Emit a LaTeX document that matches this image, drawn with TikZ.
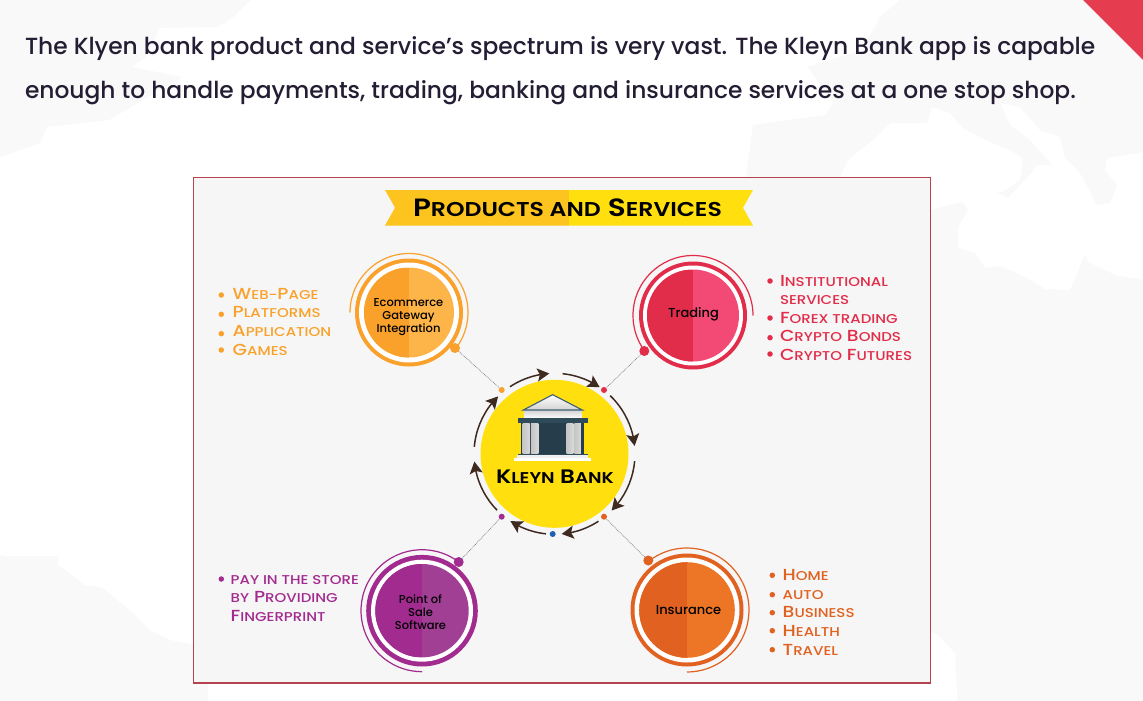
\documentclass[tikz,border=0pt]{standalone}
\usepackage{fontspec}
\setmainfont{Poppins}[BoldFont={Poppins SemiBold}]
\newfontfamily\pmed{Poppins Medium}
\newfontfamily\pwide{Poppins SemiBold}[FakeStretch=1.18]
\newfontfamily\plist{Poppins Medium}[FakeStretch=1.17]
\usetikzlibrary{arrows.meta,bending}
\definecolor{bgmap}{HTML}{F9F9F9}
\definecolor{panel}{HTML}{F6F6F6}
\definecolor{inkc}{HTML}{241D33}
\definecolor{brownc}{HTML}{3F2A20}
\definecolor{framec}{HTML}{B5424F}
\definecolor{cornerc}{HTML}{E63C50}
\definecolor{banA}{HTML}{FDC31E}
\definecolor{banB}{HTML}{FFDF0E}
\definecolor{blued}{HTML}{1F62B5}
\definecolor{ecoA}{HTML}{F9A12B}\definecolor{ecoB}{HTML}{FDB54A}
\definecolor{traA}{HTML}{E22D4A}\definecolor{traB}{HTML}{F34A75}
\definecolor{posA}{HTML}{A22B8F}\definecolor{posB}{HTML}{A13F95}
\definecolor{insA}{HTML}{E06120}\definecolor{insB}{HTML}{EC7526}
\definecolor{bankd}{HTML}{2F4A58}
\definecolor{bankk}{HTML}{263E4B}
\definecolor{bankr}{HTML}{3F5F73}
\makeatletter
\newcommand\sm[1]{{\fontsize{\the\dimexpr.8\dimexpr\f@size pt\relax\relax}{12pt}\selectfont #1}}
\makeatother
\tikzset{
 x=1pt,y=-1pt,
 txt/.style={inner sep=0pt,outer sep=0pt,anchor=base west},
 disc/.style n args={3}{circle,inner sep=0pt,minimum size=#1*2pt,fill=#3,
   path picture={\fill[#2] (path picture bounding box.south west) rectangle (path picture bounding box.north);}},
 cap/.style={inner sep=0pt,align=center,text=black,font=\pmed\fontsize{#1}{13.2pt}\selectfont},
 tiny/.style={circle,inner sep=0pt,minimum size=6pt,fill=#1},
 knob/.style={circle,inner sep=0pt,minimum size=10pt,fill=#1},
 bul/.style={circle,inner sep=0pt,minimum size=5.5pt,fill=#1},
 link/.style={gray,dash pattern=on .8pt off .9pt,line width=.7pt},
 cyc/.style={brownc,line width=1.5pt,-{Stealth[length=12pt,width=13pt,inset=2.5pt,flex]}},
 item/.style={txt,text=#1,font=\plist\fontsize{16pt}{18pt}\selectfont},
 colm/.style={left color=gray!45,middle color=white,right color=gray!30},
}
\begin{document}
\begin{tikzpicture}
\useasboundingbox (0,0) rectangle (1143,701);
\fill[white] (0,0) rectangle (1143,701);
% faint world map
\fill[bgmap] (0,0) -- (251,0) -- (233,17) -- (218,27) -- (160,28) -- (146,57) -- (131,67) -- (182,77) -- (109,120) -- (47,127) -- (40,143) -- (0,157) -- cycle;
\fill[bgmap] (900,0) -- (880,17) -- (862,50) -- (808,67) -- (833,103) -- (826,115) -- (753,125) -- (746,177) -- (840,177) -- (848,160) -- (860,150) -- (873,140) -- (890,123) -- (927,123) -- (932,107) -- (950,113) -- (963,128) -- (990,142) -- (1010,150) -- (1033,165) -- (1052,165) -- (1030,140) -- (1010,125) -- (1000,103) -- (1020,107) -- (1040,130) -- (1060,137) -- (1065,157) -- (1080,173) -- (1097,205) -- (1110,203) -- (1117,185) -- (1105,170) -- (1107,158) -- (1143,152) -- (1143,60) -- (1083,0) -- cycle;
\fill[bgmap] (1023,160) -- (1020,180) -- (1003,192) -- (997,192) -- (1008,198) -- (1032,172) -- (1036,165) -- cycle;
\fill[bgmap] (930,210) -- (963,202) -- (968,210) -- (958,227) -- (958,248) -- (975,253) -- (985,268) -- (1000,266) -- (1025,277) -- (1045,289) -- (1070,290) -- (1085,255) -- (1088,262) -- (1115,275) -- (1143,280) -- (1143,701) -- (957,701) -- (957,690) -- (955,653) -- (938,635) -- (930,632) -- cycle;
\fill[bgmap] (0,555) -- (5,556) -- (58,556) -- (58,565) -- (85,585) -- (103,588) -- (135,615) -- (150,630) -- (170,640) -- (195,645) -- (195,683) -- (208,683) -- (208,701) -- (0,701) -- cycle;
% corner
\fill[cornerc] (1083,0) -- (1143,0) -- (1143,60) -- cycle;
% intro text
\node[txt,text=inkc,font=\pmed\fontsize{23.35pt}{28pt}\selectfont] (l1) at (25,55) {The Klyen bank product and service’s spectrum is very vast. The Kleyn Bank app is capable};
\node[txt,text=inkc,font=\pmed\fontsize{23.35pt}{28pt}\selectfont] (l2) at (25,99) {enough to handle payments, trading, banking and insurance services at a one stop shop.};
% panel
\draw[draw=framec,fill=panel,line width=1.2pt] (193.5,177.5) rectangle (930.5,683);
% banner
\fill[banA] (385,190) -- (569,190) -- (569,225.5) -- (385,225.5) -- (395,207.7) -- cycle;
\fill[banB] (569,190) -- (753,190) -- (743,207.7) -- (753,225.5) -- (569,225.5) -- cycle;
\node[txt,font=\pwide\fontsize{25pt}{28pt}\selectfont,text=black] (title) at (413,216) {P\sm{RODUCTS AND} S\sm{ERVICES}};
% service circles
\fill[ecoA] (409,312.5) circle[radius=54];
\fill[white] (409,312.5) circle[radius=50];
\draw[ecoA,line width=1.2pt] (409,312.5) ++(180:59pt) arc[start angle=180,end angle=-37,radius=59pt];
\node[disc={45}{ecoA}{ecoB}] (eco) at (409,312.5) {};
\node[cap=11.5pt] (ecoT) at (408.5,317) {Ecommerce\\Gateway\\Integration};
\node[knob=ecoA] (ecoK) at (455,348) {};
\fill[traA] (693,315.5) circle[radius=54];
\fill[white] (693,315.5) circle[radius=50];
\draw[traA,line width=1.2pt] (693,315.5) ++(0:60pt) arc[start angle=0,end angle=216,radius=60pt];
\node[disc={46}{traA}{traB}] (tra) at (693,315.5) {};
\node[cap=13pt] (traT) at (693.5,314.5) {Trading};
\node[knob=traA] (traK) at (644.3,351) {};
\fill[posA] (422,610.7) circle[radius=55.8];
\fill[white] (422,610.7) circle[radius=51];
\draw[posA,line width=1.2pt] (422,610.7) ++(53:61pt) arc[start angle=53,end angle=270,radius=61pt];
\node[disc={46.7}{posA}{posB}] (pos) at (422,610.7) {};
\node[cap=11.5pt] (posT) at (420.5,612) {Point of\\Sale\\Software};
\node[knob=posA] (posK) at (458.7,562) {};
\fill[insA] (687,610) circle[radius=56.5];
\fill[white] (687,610) circle[radius=52.5];
\draw[insA,line width=1.2pt] (687,610) ++(128:62pt) arc[start angle=128,end angle=-90,radius=62pt];
\node[disc={47.8}{insA}{insB}] (ins) at (687,610) {};
\node[cap=13pt] (insT) at (688.5,610) {Insurance};
\node[knob=insA] (insK) at (648.3,560.5) {};
% hub
\coordinate (hubc) at (554.5,453.8);
\node[circle,inner sep=0pt,minimum size=148pt,fill=banB] (hub) at (hubc) {};
\node[tiny=ecoA] (d1) at (501.7,390) {};
\node[tiny=traA] (d2) at (604,390) {};
\node[tiny=insA] (d3) at (604,516.7) {};
\node[tiny=posA] (d4) at (501.7,516.7) {};
\node[tiny=blued] (d5) at (552.7,534) {};
\draw[link] (ecoK) -- (d1);
\draw[link] (traK) -- (d2);
\draw[link] (insK) -- (d3);
\draw[link] (posK) -- (d4);
% cycle arrows
\draw[cyc] (hubc) ++(123.6:80.5pt) arc[start angle=123.6,end angle=93.7,radius=80.5pt];
\draw[cyc] (hubc) ++(84.2:80.5pt) arc[start angle=84.2,end angle=55.8,radius=80.5pt];
\draw[cyc] (hubc) ++(46.2:80.5pt) arc[start angle=46.2,end angle=5.6,radius=80.5pt];
\draw[cyc] (hubc) ++(-5.2:80.5pt) arc[start angle=-5.2,end angle=-44.8,radius=80.5pt];
\draw[cyc] (hubc) ++(-56.9:80.5pt) arc[start angle=-56.9,end angle=-84.9,radius=80.5pt];
\draw[cyc] (hubc) ++(-96.1:80.5pt) arc[start angle=-96.1,end angle=-123.2,radius=80.5pt];
\draw[cyc] (hubc) ++(-135.5:80.5pt) arc[start angle=-135.5,end angle=-174.5,radius=80.5pt];
\draw[cyc] (hubc) ++(175:80.5pt) arc[start angle=175,end angle=134.5,radius=80.5pt];
% bank icon
\begin{scope}[shift={(460,360)},x=.3333pt,y=-.3333pt]
\shade[top color=gray!35,bottom color=white] (192,150) rectangle (365,176);
\draw[top color=white,bottom color=gray!35,draw=bankr,line width=1.1pt] (190,150) -- (278,104) -- (367,150) -- cycle;
\fill[bankd] (173,175) rectangle (383,188);
\fill[bankk] (183,188) rectangle (372,282);
\shade[colm] (188,190) rectangle (209,280);
\shade[colm] (213,190) rectangle (235,280);
\shade[colm] (320,190) rectangle (340,280);
\shade[colm] (343,190) rectangle (363,280);
\fill[bankd] (175,281) rectangle (383,285);
\fill[white!88!gray] (172,285) rectangle (385,295);
\fill[white] (162,295) rectangle (393,303);
\end{scope}
\node[txt,font=\pwide\fontsize{19.5pt}{22pt}\selectfont,text=black] (bank) at (496,483) {K\sm{LEYN} B\sm{ANK}};
% lists: ecommerce
\foreach \n/\y in {a/295,b/314.3,c/333.7,e/350}{\node[bul=ecoA] (ecoB\n) at (221.3,\y) {};}
\node[item=ecoA] (eco1) at (232.7,299) {W\sm{EB-}P\sm{AGE}};
\node[item=ecoA] (eco2) at (232.7,317.7) {P\sm{LATFORMS}};
\node[item=ecoA] (eco3) at (232.7,336.7) {A\sm{PPLICATION}};
\node[item=ecoA] (eco4) at (232.7,355.3) {G\sm{AMES}};
% lists: trading
\foreach \n/\y in {a/281,b/318,c/337.7,e/354}{\node[bul=traA] (traB\n) at (770,\y) {};}
\node[item=traA] (tra1) at (780,286) {I\sm{NSTITUTIONAL}};
\node[item=traA] (tra2) at (780,304.3) {\sm{SERVICES}};
\node[item=traA] (tra3) at (780,323) {F\sm{OREX TRADING}};
\node[item=traA] (tra4) at (780,341.7) {C\sm{RYPTO} B\sm{ONDS}};
\node[item=traA] (tra5) at (780,360.3) {C\sm{RYPTO} F\sm{UTURES}};
% lists: point of sale
\node[bul=posA] (posBa) at (221.3,579) {};
\node[item=posA] (pos1) at (230.7,584) {\sm{PAY IN THE STORE}};
\node[item=posA] (pos2) at (230.7,602.7) {\sm{BY} P\sm{ROVIDING}};
\node[item=posA] (pos3) at (230.7,621.7) {F\sm{INGERPRINT}};
% lists: insurance
\foreach \n/\y in {a/575.3,b/594.7,c/612.7,e/630.7,f/649.7}{\node[bul=insA] (insB\n) at (772.3,\y) {};}
\node[item=insA] (ins1) at (782.7,580) {H\sm{OME}};
\node[item=insA] (ins2) at (782.7,599) {\sm{AUTO}};
\node[item=insA] (ins3) at (782.7,617.3) {B\sm{USINESS}};
\node[item=insA] (ins4) at (782.7,636.3) {H\sm{EALTH}};
\node[item=insA] (ins5) at (782.7,655.3) {T\sm{RAVEL}};
\end{tikzpicture}
\end{document}
